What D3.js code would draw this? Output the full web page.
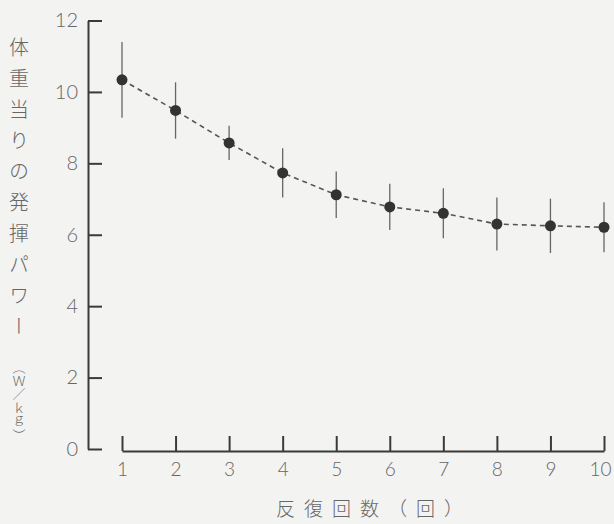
<!DOCTYPE html>
<html>
<head>
<meta charset="utf-8">
<script src="https://cdn.jsdelivr.net/npm/d3@7"></script>
<style>
  html, body { margin: 0; padding: 0; background: #f3f3f1; }
  svg { display: block; }
</style>
</head>
<body>
<div id="chart"></div>
<script>
// Power per body weight over repeated trials (mean ± SD)
const repetitions = [1, 2, 3, 4, 5, 6, 7, 8, 9, 10];
const powerMean   = [10.34, 9.48, 8.57, 7.73, 7.12, 6.78, 6.60, 6.30, 6.25, 6.21];
const powerSD     = [1.06, 0.79, 0.48, 0.69, 0.65, 0.65, 0.70, 0.74, 0.76, 0.70];
const yTicks      = [0, 2, 4, 6, 8, 10, 12];
const yTitle      = "体重当りの発揮パワー";
const yUnit       = "（Ｗ／ｋｇ）";
const xTitle      = "反復回数（回）";

const W = 614, H = 524;
const svg = d3.select("#chart").append("svg")
  .attr("width", W).attr("height", H);

svg.append("rect").attr("width", W).attr("height", H).attr("fill", "#f3f3f1");

const y = d3.scaleLinear().domain([0, 12]).range([449, 20.5]);
const x = d3.scaleLinear().domain([1, 10]).range([122, 604]);

const inkLine = "#3a3a3a";
const inkText = "#666";
const numFont = "Lato, 'DejaVu Sans', sans-serif";

// Y axis: ticks point inward, labels on the left
const gy = svg.append("g").attr("transform", "translate(88,0)")
  .call(d3.axisLeft(y).tickValues(yTicks).tickSizeInner(-14).tickSizeOuter(0).tickPadding(10));
gy.select(".domain").attr("stroke", inkLine).attr("stroke-width", 2);
gy.selectAll(".tick line").attr("stroke", inkLine).attr("stroke-width", 2);
gy.selectAll(".tick text")
  .attr("fill", inkText).attr("font-family", numFont).attr("font-weight", 300)
  .attr("font-size", 20);

// X axis: separate baseline with upward ticks
const gx = svg.append("g").attr("transform", "translate(0,451)")
  .call(d3.axisBottom(x).tickValues(repetitions).tickSizeInner(-15).tickSizeOuter(0).tickPadding(12));
gx.select(".domain").attr("stroke", inkLine).attr("stroke-width", 2);
gx.selectAll(".tick line").attr("stroke", inkLine).attr("stroke-width", 2);
gx.selectAll(".tick text")
  .attr("fill", inkText).attr("font-family", numFont).attr("font-weight", 300)
  .attr("font-size", 19);
// keep the last label inside the frame
gx.selectAll(".tick text").filter(d => d === 10).attr("dx", -4);

const data = repetitions.map((r, i) => ({ r, m: powerMean[i], sd: powerSD[i] }));

// Dashed trend line
svg.append("path").datum(data)
  .attr("fill", "none").attr("stroke", "#555").attr("stroke-width", 1.6)
  .attr("stroke-dasharray", "5,4")
  .attr("d", d3.line().x(d => x(d.r)).y(d => y(d.m)));

// Error bars
svg.append("g").selectAll("line").data(data).join("line")
  .attr("x1", d => x(d.r)).attr("x2", d => x(d.r))
  .attr("y1", d => y(d.m + d.sd)).attr("y2", d => y(d.m - d.sd))
  .attr("stroke", "#666").attr("stroke-width", 1.3);

// Mean markers
svg.append("g").selectAll("circle").data(data).join("circle")
  .attr("cx", d => x(d.r)).attr("cy", d => y(d.m)).attr("r", 5.5)
  .attr("fill", "#333");

const cjk = "'Noto Sans CJK JP', 'Noto Sans CJK SC', sans-serif";

// Vertical y-axis title and unit
svg.append("text")
  .attr("x", 19).attr("y", 37)
  .attr("writing-mode", "vertical-rl")
  .style("letter-spacing", "11px")
  .attr("font-family", cjk).attr("font-weight", 300).attr("font-size", 20)
  .attr("fill", inkText)
  .text(yTitle);

svg.append("text")
  .attr("x", 19).attr("y", 361)
  .attr("writing-mode", "vertical-rl")
  .attr("font-family", cjk).attr("font-weight", 300).attr("font-size", 13)
  .style("letter-spacing", "0.5px")
  .attr("fill", inkText)
  .text(yUnit);

// X-axis title
svg.append("text")
  .attr("x", 374).attr("y", 516)
  .attr("text-anchor", "middle")
  .attr("font-family", cjk).attr("font-weight", 300).attr("font-size", 19)
  .style("letter-spacing", "9px")
  .attr("fill", inkText)
  .text(xTitle);
</script>
</body>
</html>
